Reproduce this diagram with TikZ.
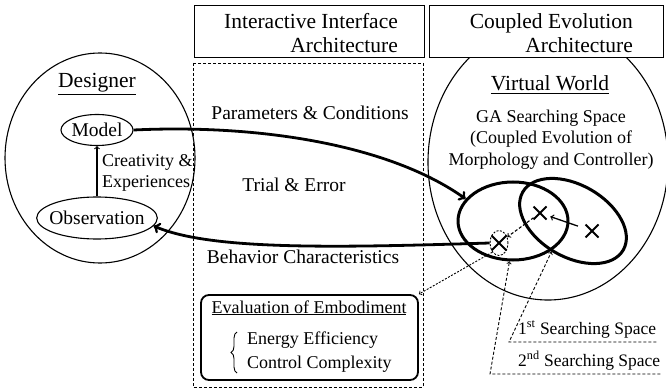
\documentclass[tikz,border=0pt]{standalone}
\usepackage{fontspec}
\setmainfont{Liberation Serif}
\usetikzlibrary{arrows,calc,decorations.pathreplacing,shapes}

\begin{document}
\begin{tikzpicture}[x=1pt,y=-1pt,
    bigfont/.style={font=\fontsize{21.5}{24}\selectfont},
    midfont/.style={font=\fontsize{19.5}{22}\selectfont},
    smallfont/.style={font=\fontsize{18}{21.5}\selectfont},
    world/.style={ellipse,draw,line width=1.1pt,inner sep=0pt},
    gaspace/.style={ellipse,draw,line width=3pt,inner sep=0pt},
    head/.style={draw,fill=white,line width=1pt,minimum width=230pt,minimum height=52pt,inner sep=0pt},
    xmark/.style={cross out,draw,line width=2pt,minimum size=11pt,inner sep=0pt},
    flow/.style={->,line width=2.8pt},
    lead/.style={->,line width=0.9pt,dash pattern=on 3pt off 2pt}]
  \useasboundingbox (0,0) rectangle (666,390);

  % designer
  \node[world,minimum width=190pt,minimum height=210pt] (des) at (100,158) {};
  \node[bigfont,anchor=base] (des-t) at (97,88) {\underline{Designer}};
  \node[world,midfont,minimum width=71pt,minimum height=31pt] (model) at (97,130) {Model};
  \node[world,midfont,inner xsep=-5pt,minimum height=42pt] (obs) at (97,218) {Observation};
  \node[smallfont,align=left,anchor=west,inner sep=0pt] (crea) at (102,173) {Creativity \&\\Experiences};
  \draw[->,line width=1.1pt] (obs) -- (model);

  % virtual world
  \node[world,minimum width=240pt,minimum height=276pt] (vw) at (548,162) {};
  \node[bigfont,anchor=base] (vw-t) at (550,91) {\underline{Virtual World}};
  \node[smallfont,align=center,inner sep=0pt] (ga) at (551,139.5) {GA Searching Space\\(Coupled Evolution of\\Morphology and Controller)};
  \node[gaspace,minimum width=110pt,minimum height=78pt] (s1) at (513,221) {};
  \node[gaspace,minimum width=116pt,minimum height=72pt,rotate=-30] (s2) at (573,221) {};
  \node[xmark] (x1) at (540,213) {};
  \node[xmark] (x2) at (592,231) {};
  \node[ellipse,draw,line width=0.9pt,dash pattern=on 2pt off 1.5pt,minimum width=18pt,minimum height=25pt,inner sep=0pt] (x0) at (499,243) {};
  \node[xmark,minimum size=13pt] (x0c) at (x0) {};

  % headers
  \node[head] (hd1) at (309,32) {};
  \node[bigfont,align=right,anchor=east,inner sep=0pt] (hd1-t) at (398,33) {Interactive Interface\\Architecture};
  \node[head,minimum width=234pt] (hd2) at (546,32) {};
  \node[bigfont,align=right,anchor=east,inner sep=0pt] (hd2-t) at (633,33) {Coupled Evolution\\Architecture};

  % interface column
  \draw[line width=0.9pt,dash pattern=on 3pt off 2pt] (193,63) rectangle (423,387);
  \node[midfont,anchor=base] (par) at (310,120) {Parameters \& Conditions};
  \node[midfont,anchor=base] (trial) at (294,192) {Trial \& Error};
  \node[midfont,anchor=base] (beh) at (303,263) {Behavior Characteristics};
  \node[draw,line width=1.8pt,rounded corners=8pt,minimum width=217pt,minimum height=85pt] (eval) at (309.5,337.5) {};
  \node[smallfont,anchor=base] (eval-t) at (309,313) {\underline{Evaluation of Embodiment}};
  \node[smallfont,anchor=base west,inner sep=0pt] (energy) at (247,344) {Energy Efficiency};
  \node[smallfont,anchor=base west,inner sep=0pt] (ctrl) at (247,368) {Control Complexity};
  \draw[decorate,decoration={brace,amplitude=6pt},line width=0.9pt]
    ($(ctrl.base west)+(-10,5)$) -- ($(energy.base west)+(-10,-12)$);

  % searching spaces
  \node[font=\fontsize{17.5}{21}\selectfont,anchor=base west,inner sep=0pt] (sp1) at (518,334) {1\textsuperscript{st} Searching Space};
  \node[font=\fontsize{17.5}{21}\selectfont,anchor=base west,inner sep=0pt] (sp2) at (518,366) {2\textsuperscript{nd} Searching Space};
  \coordinate (u1) at (509,342);
  \coordinate (u2) at (490,374);
  \draw[lead] (u1 -| sp1.east) -- (u1) -- (s2.265);
  \draw[lead] (u2 -| sp2.east) -- (u2) -- (s1.265);

  % search steps and feedback
  \draw[->,line width=1.3pt,shorten <=8pt,shorten >=4pt] (x2) -- (x1);
  \draw[->,line width=1.1pt,dash pattern=on 3pt off 2pt] (x1) -- (x0);
  \draw[->,line width=0.9pt,dash pattern=on 2pt off 1.5pt] (x0.south west) -- (eval.north east);
  \draw[flow] (model.east) .. controls (260,124) and (390,145) .. (s1.155);
  \draw[flow] (x0.west) .. controls (330,248) and (210,250) .. (obs.-8);
\end{tikzpicture}
\end{document}
